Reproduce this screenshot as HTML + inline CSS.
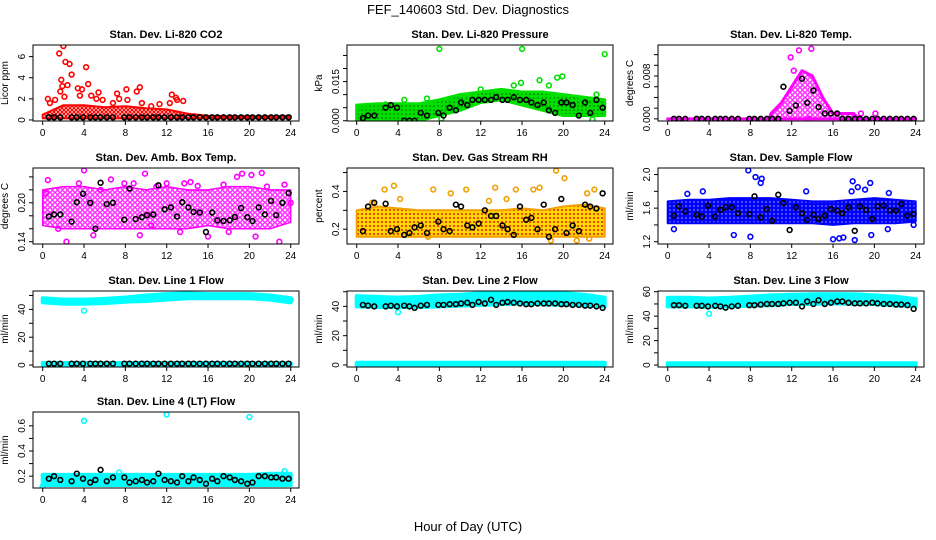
<!DOCTYPE html>
<html><head><meta charset="utf-8"><style>
body{margin:0;background:#fff;}
svg{display:block;font-family:"Liberation Sans",Arial,sans-serif;}
</style></head><body>
<svg id="fig" width="936" height="540" viewBox="0 0 936 540">
<defs>
<pattern id="patMag" width="5" height="5" patternUnits="userSpaceOnUse"><circle cx="2.5" cy="2.5" r="1.8" fill="none" stroke="#ff00ff" stroke-width="1.2"/></pattern>
<pattern id="patRed" width="4" height="4" patternUnits="userSpaceOnUse"><circle cx="2" cy="2" r="1.5" fill="none" stroke="#ff0000" stroke-width="1.2"/></pattern>
<pattern id="patOr" width="4" height="4" patternUnits="userSpaceOnUse"><rect width="4" height="4" fill="#ffd700"/><circle cx="2" cy="2" r="1.1" fill="#e04000"/></pattern>
<pattern id="patBlue" width="4" height="4" patternUnits="userSpaceOnUse"><rect width="4" height="4" fill="#0000ff"/><circle cx="2" cy="2" r="0.9" fill="#8080ff"/></pattern>
<pattern id="patGreen" width="4" height="4" patternUnits="userSpaceOnUse"><rect width="4" height="4" fill="#00e000"/><circle cx="2" cy="2" r="0.8" fill="#006000"/></pattern>
</defs>
<text x="468" y="14" text-anchor="middle" font-size="13">FEF_140603  Std. Dev. Diagnostics</text>
<text x="468" y="531" text-anchor="middle" font-size="13">Hour of Day (UTC)</text>
</svg>
<script>
// ---- shared data ----
const bandHours = [0,2,4,6,8,10,12,14,16,18,20,22,24];
const blackHours = [0.6,1.1,1.7,2.8,3.3,3.9,4.6,5.1,5.6,6.2,6.8,7.9,8.4,9.0,9.6,10.1,10.7,11.2,11.8,12.4,13.0,13.5,14.1,14.6,15.2,15.8,16.4,16.9,17.5,18.1,18.6,19.2,19.8,20.3,20.9,21.5,22.1,22.6,23.2,23.8];
const xTicks = [0,4,8,12,16,20,24];

// ---- CO2 ----
const co2Hi = [0.5,1.4,1.4,1.2,1.3,1.1,1.0,0.6,0.4,0.35,0.35,0.35,0.4];
const co2Lo = [0.15,0.15,0.15,0.15,0.15,0.15,0.15,0.15,0.15,0.15,0.15,0.15,0.15];
const co2OutX = [0.5,0.7,1.2,1.6,1.7,1.8,1.9,2.0,2.1,2.2,2.4,2.6,2.8,3.4,3.6,3.8,4.2,4.4,4.7,5.2,5.4,5.8,6.8,7.2,7.4,8.1,8.2,9.1,9.4,9.6,10.5,11.3,12.3,12.5,12.9,13.0,13.6];
const co2OutY = [2.0,1.6,1.9,6.3,2.7,3.8,3.2,7.0,2.2,5.5,3.3,5.3,4.3,3.0,2.3,2.9,5.0,3.4,2.3,2.0,2.6,1.9,1.6,2.5,2.0,2.9,1.9,2.7,3.1,1.6,1.3,1.5,1.6,2.4,2.1,1.9,1.8];
const co2Black = [0.25,0.25,0.25,0.25,0.25,0.25,0.25,0.25,0.25,0.25,0.25,0.25,0.25,0.25,0.25,0.25,0.25,0.25,0.25,0.25,0.25,0.25,0.25,0.25,0.25,0.25,0.25,0.25,0.25,0.25,0.25,0.25,0.25,0.25,0.25,0.25,0.25,0.25,0.25,0.25];

// ---- Pressure ----
const presHi = [0.006,0.0065,0.0065,0.0065,0.008,0.010,0.011,0.012,0.011,0.011,0.010,0.009,0.008];
const presLo = [0.000,0.000,0.000,0.000,0.002,0.004,0.007,0.008,0.006,0.004,0.002,0.002,0.002];
const presOutX = [8,16,24,17.7,19.4,19.9,18.6,15.9,15.2,4.6,6.8,8.2,22.8,23.2,2.8,12.0];
const presOutY = [0.0275,0.0275,0.0255,0.0155,0.0165,0.017,0.0135,0.0145,0.0135,0.008,0.0085,0.0008,0.0005,0.010,0.0062,0.012];
const presBlack = [0.001,0.002,0.002,0.005,0.006,0.005,0.000,0.000,0.000,0.003,0.002,0.003,0.002,0.005,0.004,0.007,0.006,0.008,0.008,0.008,0.008,0.009,0.008,0.008,0.009,0.008,0.008,0.007,0.006,0.007,0.004,0.003,0.007,0.007,0.006,0.002,0.007,0.003,0.008,0.005];

// ---- Li-820 Temp ----
const tempBandHours = [0,9.8,10,11,12,13,14,15,16,18,18.5,24];
const tempHi = [0,0,0.001,0.003,0.006,0.009,0.008,0.004,0.001,0.001,0,0];
const tempLo = [0,0,0,0,0,0,0,0,0,0,0,0];
const tempOutX = [12.7,13.9,11.9,20.1,18.7,13.7,12.2];
const tempOutY = [0.0128,0.0131,0.0115,0.001,0.001,0,0.009];
const tempBlack = [0,0,0,0,0,0,0,0,0,0,0,0,0,0,0,0,0,0.006,0.0015,0.0025,0.0075,0.003,0.0053,0.0022,0.001,0.001,0.001,0,0,0,0,0,0,0,0,0,0,0,0,0];

// ---- Amb Box Temp ----
const ambHi = [0.22,0.225,0.225,0.22,0.225,0.22,0.225,0.22,0.22,0.225,0.225,0.22,0.22];
const ambLo = [0.165,0.16,0.16,0.16,0.16,0.16,0.16,0.16,0.165,0.16,0.16,0.16,0.17];
const ambOutX = [0.5,2.3,4,4.9,6.6,7.9,9.4,9.9,12,13.7,14.3,16,18.8,19.3,20.2,20.6,21.2,22.9,23.4,1.5,3.5,5.6,8.8,11,15,17.5,0.3,10.5,13.3,18,21.7,24];
const ambOutY = [0.235,0.14,0.25,0.15,0.236,0.23,0.15,0.245,0.23,0.23,0.232,0.148,0.24,0.245,0.243,0.148,0.246,0.14,0.228,0.16,0.23,0.22,0.23,0.225,0.226,0.228,0.215,0.165,0.155,0.155,0.225,0.2];
const ambBlack = [0.179,0.182,0.182,0.171,0.201,0.214,0.2,0.16,0.231,0.198,0.2,0.174,0.222,0.175,0.178,0.181,0.182,0.227,0.19,0.193,0.179,0.201,0.193,0.186,0.185,0.155,0.185,0.173,0.172,0.173,0.178,0.192,0.178,0.172,0.193,0.182,0.203,0.181,0.2,0.215];

// ---- Gas Stream RH ----
const rhHi = [0.30,0.32,0.31,0.30,0.30,0.30,0.30,0.30,0.31,0.30,0.32,0.33,0.31];
const rhLo = [0.16,0.16,0.16,0.16,0.16,0.16,0.16,0.16,0.16,0.16,0.16,0.16,0.16];
const rhOutX = [2.7,3.6,7.4,9.1,10.6,13.4,15.4,17.1,17.7,19.3,20.1,22.3,23,21.3,18.8,22.5,6.9,4.2,12.8,14.5,1.5];
const rhOutY = [0.41,0.43,0.41,0.39,0.41,0.42,0.41,0.41,0.42,0.51,0.47,0.39,0.41,0.14,0.14,0.15,0.16,0.36,0.35,0.36,0.34];
const rhBlack = [0.19,0.32,0.34,0.335,0.19,0.2,0.17,0.18,0.21,0.22,0.18,0.24,0.2,0.19,0.33,0.32,0.22,0.21,0.23,0.3,0.27,0.27,0.22,0.2,0.17,0.32,0.25,0.26,0.2,0.33,0.16,0.2,0.36,0.18,0.22,0.19,0.33,0.32,0.31,0.39];

// ---- Sample Flow ----
const sfHi = [1.68,1.70,1.70,1.72,1.72,1.72,1.70,1.68,1.68,1.70,1.72,1.70,1.68];
const sfLo = [1.42,1.42,1.42,1.42,1.42,1.42,1.42,1.42,1.40,1.42,1.42,1.42,1.44];
const sfOutX = [7.8,8.5,9.1,9.0,17.9,19.6,21.4,16,16.6,17,18.1,19.7,6.4,8,0.6,21.3,23.8,3.4,1.9,13.4,17.8,18.4,19.1];
const sfOutY = [2.05,1.97,1.95,1.9,1.92,1.9,1.78,1.23,1.24,1.25,1.22,1.28,1.28,1.26,1.35,1.35,1.4,1.8,1.77,1.8,1.8,1.85,1.82];
const sfBlack = [1.51,1.62,1.56,1.52,1.50,1.63,1.50,1.58,1.61,1.61,1.54,1.53,1.74,1.49,1.59,1.45,1.76,1.66,1.34,1.61,1.54,1.46,1.52,1.47,1.51,1.59,1.57,1.54,1.61,1.33,1.62,1.58,1.47,1.62,1.63,1.57,1.57,1.65,1.51,1.53];

// ---- Line 1 Flow ----
const l1Hi = [48,47,47,47.5,48.5,50,51,51.5,51,51,51,50,48];
const l1Lo = [45,44,44,44.5,45.5,46,47,48,48,48,48,47,45];
const baseHi = [1.5,1.5,1.5,1.5,1.5,1.5,1.5,1.5,1.5,1.5,1.5,1.5,1.5];
const baseLo = [0,0,0,0,0,0,0,0,0,0,0,0,0];
const l1OutX = [4,24];
const l1OutY = [39,47];
const l1Black = [1,1,1,1,1,1,1,1,1,1,1,1,1,1,1,1,1,1,1,1,1,1,1,1,1,1,1,1,1,1,1,1,1,1,1,1,1,1,1,1];

// ---- Line 2 Flow ----
const l2Hi = [47,46.5,46,46.5,47.5,48,49,50,50,50,49,48,46];
const l2Lo = [40,39.5,39.5,39.5,40,40.5,41,41.5,42,41.5,41,40.5,40];
const l2OutX = [4];
const l2OutY = [36];
const l2Black = [41,40.5,40,40,40.5,40,40.5,40,39,40.5,41,41,41,41.5,41.5,42,42.5,41,43,42,44.5,41,42.5,43,42.5,42,41.5,41.5,42,42,42,42,41.5,41.5,41,41,40.5,40.5,40,39];

// ---- Line 3 Flow ----
const l3Hi = [55,55,54.5,55,56,57,57.5,58,58,58,57,56,54];
const l3Lo = [48,48,47.5,48,48.5,49,50,50,50.5,50,50,49,48];
const l3OutX = [4];
const l3OutY = [42];
const l3Black = [49,49,48.5,48.5,48.5,48,48.5,48,47,48,48.5,49,49,49.5,50,50,50,50.5,51,51,48,52,50,53,50,51,52,52,51,50.5,50.5,50.5,51,50.5,50,50,49.5,49.5,49,46];

// ---- Line 4 Flow ----
const l4Hi = [0.21,0.21,0.21,0.21,0.21,0.21,0.21,0.21,0.21,0.21,0.21,0.22,0.22];
const l4Lo = [0.13,0.13,0.13,0.13,0.13,0.13,0.13,0.13,0.13,0.13,0.13,0.13,0.13];
const l4OutX = [4,12,20,7.4,23.4,0];
const l4OutY = [0.64,0.69,0.67,0.23,0.24,0.12];
const l4Black = [0.18,0.2,0.17,0.16,0.22,0.18,0.15,0.17,0.25,0.16,0.19,0.19,0.15,0.16,0.17,0.15,0.16,0.22,0.17,0.16,0.15,0.2,0.16,0.19,0.17,0.14,0.18,0.16,0.2,0.19,0.17,0.16,0.14,0.15,0.2,0.2,0.19,0.19,0.18,0.18];

const NS = "http://www.w3.org/2000/svg";
const svg = document.getElementById('fig');
const colLeft = [33,347,658], rowTop = [45,168,291,412], W = 266, H = 76;

const panels = [
 {name:'co2',title:'Stan. Dev. Li-820 CO2',ylab:'Licor ppm',c:0,r:0,ymin:-0.1,ymax:7.1,ticks:[0,2,4,6],labs:[0,2,4,6],fmt:v=>String(v),col:'#ff0000',fill:'url(#patRed)',sw:2,bands:[[bandHours,co2Lo,co2Hi]],ox:co2OutX,oy:co2OutY,black:co2Black},
 {name:'pressure',title:'Stan. Dev. Li-820 Pressure',ylab:'kPa',c:1,r:0,ymin:-0.0001,ymax:0.029,ticks:[0,0.005,0.01,0.015,0.02,0.025],labs:[0,0.015],fmt:v=>v.toFixed(3),col:'#00e000',fill:'url(#patGreen)',sw:3,bands:[[bandHours,presLo,presHi]],ox:presOutX,oy:presOutY,black:presBlack},
 {name:'li820-temp',title:'Stan. Dev. Li-820 Temp.',ylab:'degrees C',c:2,r:0,ymin:-0.0004,ymax:0.0138,ticks:[0,0.002,0.004,0.006,0.008,0.01,0.012],labs:[0,0.008],fmt:v=>v.toFixed(3),col:'#ff00ff',fill:'url(#patMag)',sw:3,bands:[[tempBandHours,tempLo,tempHi]],ox:tempOutX,oy:tempOutY,black:tempBlack},
 {name:'amb-box-temp',title:'Stan. Dev. Amb. Box Temp.',ylab:'degrees C',c:0,r:1,ymin:0.1365,ymax:0.2537,ticks:[0.14,0.16,0.18,0.2,0.22,0.24],labs:[0.14,0.2],fmt:v=>v.toFixed(2),col:'#ff00ff',fill:'url(#patMag)',sw:1.5,bands:[[bandHours,ambLo,ambHi]],ox:ambOutX,oy:ambOutY,black:ambBlack},
 {name:'gas-stream-rh',title:'Stan. Dev. Gas Stream RH',ylab:'percent',c:1,r:1,ymin:0.1217,ymax:0.524,ticks:[0.2,0.3,0.4,0.5],labs:[0.2,0.4],fmt:v=>v.toFixed(1),col:'#f0a000',fill:'url(#patOr)',sw:2,bands:[[bandHours,rhLo,rhHi]],ox:rhOutX,oy:rhOutY,black:rhBlack},
 {name:'sample-flow',title:'Stan. Dev. Sample Flow',ylab:'ml/min',c:2,r:1,ymin:1.173,ymax:2.078,ticks:[1.2,1.4,1.6,1.8,2.0],labs:[1.2,1.6,2.0],fmt:v=>v.toFixed(1),col:'#0000ff',fill:'url(#patBlue)',sw:2,bands:[[bandHours,sfLo,sfHi]],ox:sfOutX,oy:sfOutY,black:sfBlack},
 {name:'line1-flow',title:'Stan. Dev. Line 1 Flow',ylab:'ml/min',c:0,r:2,ymin:-1.4,ymax:53.2,ticks:[0,10,20,30,40,50],labs:[0,20,40],fmt:v=>String(v),col:'#00ffff',fill:'#00ffff',sw:4,bands:[[bandHours,l1Lo,l1Hi],[bandHours,baseLo,baseHi]],ox:l1OutX,oy:l1OutY,black:l1Black},
 {name:'line2-flow',title:'Stan. Dev. Line 2 Flow',ylab:'ml/min',c:1,r:2,ymin:-1.4,ymax:50.5,ticks:[0,10,20,30,40,50],labs:[0,20,40],fmt:v=>String(v),col:'#00ffff',fill:'#00ffff',sw:4,bands:[[bandHours,l2Lo,l2Hi],[bandHours,baseLo,baseHi]],ox:l2OutX,oy:l2OutY,black:l2Black},
 {name:'line3-flow',title:'Stan. Dev. Line 3 Flow',ylab:'ml/min',c:2,r:2,ymin:-1.6,ymax:60.6,ticks:[0,10,20,30,40,50,60],labs:[0,20,40,60],fmt:v=>String(v),col:'#00ffff',fill:'#00ffff',sw:4,bands:[[bandHours,l3Lo,l3Hi],[bandHours,baseLo,baseHi]],ox:l3OutX,oy:l3OutY,black:l3Black},
 {name:'line4-flow',title:'Stan. Dev. Line 4 (LT) Flow',ylab:'ml/min',c:0,r:3,ymin:0.106,ymax:0.71,ticks:[0.2,0.3,0.4,0.5,0.6],labs:[0.2,0.4,0.6],fmt:v=>v.toFixed(1),col:'#00ffff',fill:'#00ffff',sw:4,bands:[[bandHours,l4Lo,l4Hi]],ox:l4OutX,oy:l4OutY,black:l4Black}
];

function mk(tag, attrs, parent){
  const e = document.createElementNS(NS, tag);
  for (const k in attrs) e.setAttribute(k, attrs[k]);
  parent.appendChild(e);
  return e;
}

panels.forEach(p => {
  const L = colLeft[p.c], T = rowTop[p.r], B = T + H, R = L + W;
  const xs = h => L + 9.7 + h * 248 / 24;
  const ys = v => B - (v - p.ymin) / (p.ymax - p.ymin) * H;
  const g = mk('g', {}, svg);
  
  

  const t = mk('text', {x:(L+R)/2, y:T-7, 'text-anchor':'middle', 'font-size':'11', 'font-weight':'bold'}, g);
  t.textContent = p.title;
  
  

  const yl = mk('text', {x:L-25, y:(T+B)/2, 'text-anchor':'middle', 'font-size':'10', transform:`rotate(-90 ${L-25} ${(T+B)/2})`}, g);
  yl.textContent = p.ylab;
  
  

  const cid = 'clip-' + p.name;
  const cp = mk('clipPath', {id:cid}, g);
  mk('rect', {x:L, y:T, width:W, height:H}, cp);
  const plot = mk('g', {'clip-path':`url(#${cid})`}, g);
  
  

  p.bands.forEach((bd, bi) => {
    const [hs, lo, hi] = bd;
    let pts = hs.map((h,i) => `${xs(h).toFixed(1)},${ys(hi[i]).toFixed(1)}`);
    for (let i = hs.length-1; i >= 0; i--) pts.push(`${xs(hs[i]).toFixed(1)},${ys(lo[i]).toFixed(1)}`);
    const poly = mk('polygon', {points:pts.join(' '), fill:p.fill, stroke:p.col, 'stroke-width':p.sw, 'stroke-linejoin':'round'}, plot);
    
    
  });
  p.ox.forEach((h,i) => {
    const c = mk('circle', {cx:xs(h), cy:ys(p.oy[i]), r:2.4, fill:'none', stroke:p.col, 'stroke-width':'1.6'}, plot);
    
    
  });
  p.black.forEach((v,i) => {
    const c = mk('circle', {cx:xs(blackHours[i]), cy:ys(v), r:2.4, fill:'none', stroke:'#000', 'stroke-width':'1.6'}, plot);
    
    
  });

  const box = mk('rect', {x:L, y:T, width:W, height:H, fill:'none', stroke:'#000', 'stroke-width':'1'}, g);
  
  

  p.ticks.forEach(v => {
    const y = ys(v);
    const tk = mk('line', {x1:L-4, x2:L, y1:y, y2:y, stroke:'#000', 'stroke-width':'1'}, g);
    
    
  });
  p.labs.forEach(v => {
    const y = ys(v);
    const tl = mk('text', {x:L-8, y:y, 'text-anchor':'middle', 'font-size':'10', transform:`rotate(-90 ${L-8} ${y})`}, g);
    tl.textContent = p.fmt(v);
    
    
  });
  xTicks.forEach(h => {
    const x = xs(h);
    const tk = mk('line', {x1:x, x2:x, y1:B, y2:B+4, stroke:'#000', 'stroke-width':'1'}, g);
    
    
    const tl = mk('text', {x:x, y:B+15, 'text-anchor':'middle', 'font-size':'10'}, g);
    tl.textContent = String(h);
    
    
  });
});
</script>
</body></html>
